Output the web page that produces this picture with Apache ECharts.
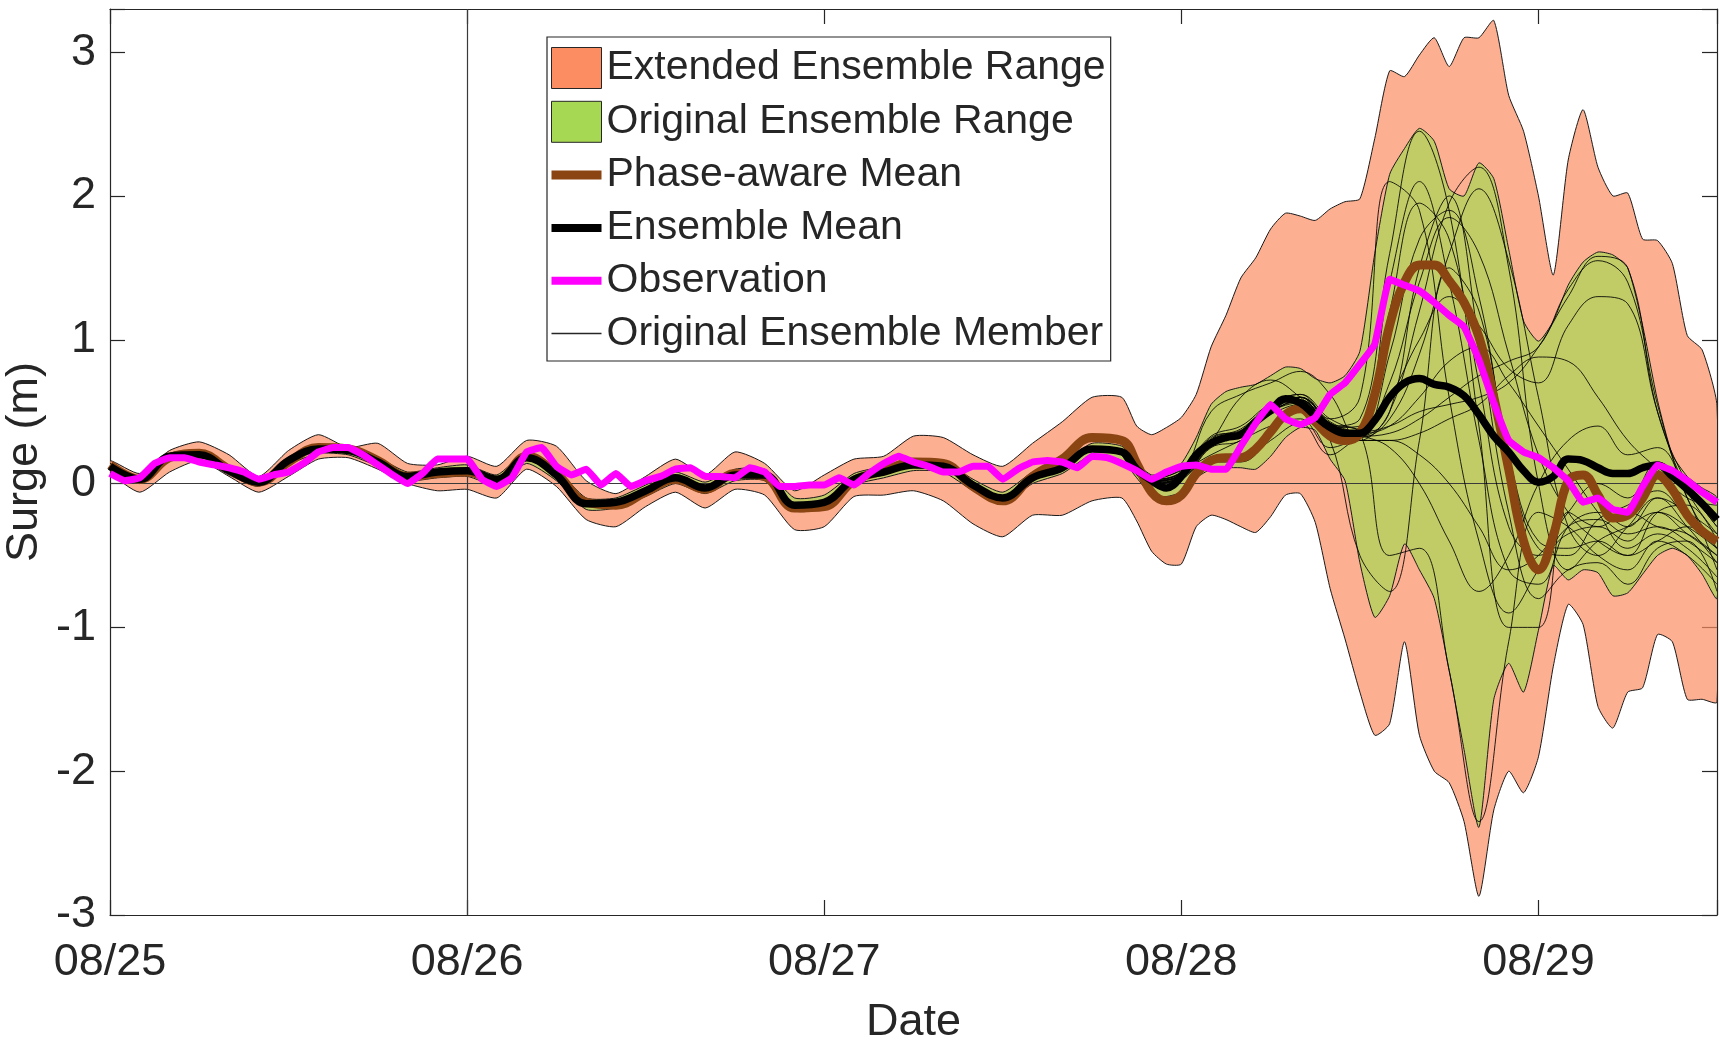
<!DOCTYPE html>
<html>
<head>
<meta charset="utf-8">
<title>Surge ensemble forecast</title>
<script src="https://cdn.jsdelivr.net/npm/echarts@6/dist/echarts.min.js"></script>
<style>
  html, body { margin: 0; padding: 0; background: #fff; }
  #surgeChart { width: 1720px; height: 1046px; }
</style>
</head>
<body>
<div id="surgeChart"></div>
<script>
// hours since 08/25 00:00 (2 h steps, then hourly where the ensemble spreads out)
const hours = [0, 2, 4, 6, 8, 10, 12, 14, 16, 18, 20, 22, 24, 26, 28, 30, 32, 34, 36, 38, 40, 42, 44, 46, 48, 50, 52, 54, 56, 58, 60, 62, 64, 66, 68,
  69, 70, 71, 72, 73, 74, 75, 76, 77, 78, 79, 80, 81, 82, 83, 84, 85, 86, 87, 88, 89, 90, 91, 92, 93, 94, 95, 96, 97, 98, 99, 100, 101, 102, 103, 104, 105, 106, 107, 108];
const dayLabels = ['08/25', '08/26', '08/27', '08/28', '08/29'];

const extendedUpper = [0.16, 0.07, 0.23, 0.29, 0.2, 0.05, 0.23, 0.34, 0.25, 0.28, 0.14, 0.13, 0.19, 0.12, 0.3, 0.26, 0.02, -0.07, 0.05, 0.17, 0.06, 0.22, 0.14, -0.05, 0.06, 0.17, 0.19, 0.33, 0.32, 0.2, 0.12, 0.28, 0.43, 0.6, 0.6,
  0.4, 0.34, 0.39, 0.46, 0.62, 0.95, 1.17, 1.43, 1.57, 1.77, 1.88, 1.86, 1.83, 1.91, 1.96, 1.98, 2.4, 2.87, 2.83, 2.98, 3.1, 2.9, 3.1, 3.1, 3.22, 2.7, 2.45, 2.0, 1.45, 2.25, 2.6, 2.2, 2.0, 2.02, 1.7, 1.69, 1.53, 1.03, 0.93, 0.54];
const extendedLower = [0.08, -0.06, 0.08, 0.16, 0.05, -0.06, 0.05, 0.17, 0.18, 0.1, 0.0, -0.05, -0.04, -0.1, 0.1, -0.02, -0.25, -0.3, -0.16, -0.06, -0.17, -0.04, -0.08, -0.32, -0.3, -0.09, -0.08, -0.05, -0.12, -0.28, -0.37, -0.22, -0.22, -0.12, -0.1,
  -0.26, -0.47, -0.56, -0.56, -0.3, -0.22, -0.25, -0.3, -0.34, -0.23, -0.08, -0.07, -0.27, -0.73, -1.08, -1.45, -1.75, -1.67, -1.1, -1.75, -2.0, -2.08, -2.35, -2.87, -2.27, -2.0, -2.15, -1.9, -1.27, -0.84, -0.98, -1.55, -1.7, -1.45, -1.42, -1.05, -1.1, -1.5, -1.5, -1.52];
const originalUpper = [0.14, 0.05, 0.21, 0.23, 0.12, 0.03, 0.18, 0.27, 0.24, 0.18, 0.08, 0.11, 0.13, 0.06, 0.22, 0.1, -0.1, -0.1, -0.01, 0.08, 0.01, 0.1, 0.1, -0.1, -0.08, 0.07, 0.12, 0.17, 0.16, 0.03, -0.06, 0.08, 0.15, 0.28, 0.26,
  0.14, 0.06, 0.08, 0.14, 0.32, 0.55, 0.64, 0.67, 0.69, 0.75, 0.81, 0.8, 0.73, 0.7, 0.75, 0.92, 1.6, 2.15, 2.33, 2.47, 2.38, 2.05, 2.0, 2.23, 2.12, 1.63, 1.13, 0.99, 1.13, 1.38, 1.54, 1.61, 1.59, 1.5, 1.1, 0.58, 0.2, 0.05, -0.03, -0.1];
const originalLower = [0.09, 0.0, 0.16, 0.17, 0.06, -0.02, 0.13, 0.21, 0.2, 0.12, 0.02, 0.04, 0.05, -0.01, 0.14, 0.02, -0.18, -0.17, -0.09, 0.0, -0.07, 0.02, 0.02, -0.19, -0.17, -0.01, 0.04, 0.09, 0.08, -0.05, -0.14, 0.0, 0.07, 0.2, 0.16,
  0.04, -0.08, -0.09, -0.06, 0.04, 0.1, 0.11, 0.11, 0.1, 0.19, 0.32, 0.39, 0.37, 0.17, 0.02, -0.55, -0.93, -0.78, -0.42, -0.6, -0.8, -1.3, -1.85, -2.39, -1.5, -1.25, -1.45, -1.02, -0.57, -0.67, -0.6, -0.62, -0.78, -0.76, -0.63, -0.5, -0.45, -0.5, -0.63, -0.8];
const phaseAwareMean = [0.13, 0.03, 0.18, 0.21, 0.1, 0.01, 0.15, 0.25, 0.24, 0.16, 0.05, 0.07, 0.08, 0.02, 0.19, 0.07, -0.13, -0.15, -0.06, 0.03, -0.04, 0.07, 0.05, -0.17, -0.16, 0.02, 0.09, 0.15, 0.14, -0.02, -0.12, 0.05, 0.17, 0.32, 0.3,
  0.14, -0.06, -0.12, -0.08, 0.07, 0.16, 0.18, 0.18, 0.24, 0.36, 0.48, 0.52, 0.43, 0.33, 0.3, 0.35, 0.62, 1.1, 1.4, 1.52, 1.52, 1.41, 1.26, 1.02, 0.6, 0.1, -0.4, -0.6, -0.36, 0.02, 0.06, -0.08, -0.24, -0.22, -0.1, 0.06, -0.04, -0.22, -0.33, -0.4];
const ensembleMean = [0.12, 0.03, 0.19, 0.2, 0.09, 0.01, 0.16, 0.24, 0.23, 0.15, 0.05, 0.08, 0.09, 0.03, 0.18, 0.06, -0.14, -0.13, -0.05, 0.04, -0.03, 0.06, 0.06, -0.15, -0.13, 0.03, 0.08, 0.13, 0.12, -0.01, -0.1, 0.04, 0.11, 0.24, 0.22,
  0.1, 0.02, -0.03, 0.05, 0.2, 0.28, 0.32, 0.34, 0.43, 0.51, 0.59, 0.56, 0.47, 0.39, 0.35, 0.35, 0.44, 0.6, 0.7, 0.73, 0.69, 0.67, 0.61, 0.48, 0.33, 0.22, 0.09, 0.01, 0.05, 0.17, 0.16, 0.11, 0.07, 0.07, 0.11, 0.13, 0.05, -0.04, -0.14, -0.25];

// observation is hourly
const obsHours = Array.from({ length: 109 }, (_, i) => i);
const observation = [0.07, 0.02, 0.04, 0.14, 0.18, 0.18, 0.15, 0.13, 0.11, 0.08, 0.03, 0.06, 0.08, 0.14, 0.22, 0.25, 0.25, 0.2, 0.13, 0.06, 0.0, 0.07, 0.17, 0.17, 0.17, 0.03, -0.02, 0.04, 0.22, 0.25, 0.12, 0.06, 0.1, -0.01, 0.07, -0.02, 0.02,
  0.05, 0.1, 0.11, 0.05, 0.05, 0.04, 0.11, 0.08, -0.02, -0.02, -0.01, -0.01, 0.04, -0.01, 0.07, 0.14, 0.19, 0.15, 0.12, 0.08, 0.08, 0.12, 0.12, 0.03, 0.1, 0.15, 0.16, 0.15, 0.11, 0.19, 0.18, 0.14, 0.09, 0.03, 0.08, 0.12, 0.13,
  0.1, 0.1, 0.26, 0.42, 0.55, 0.45, 0.41, 0.46, 0.62, 0.7, 0.83, 0.97, 1.42, 1.38, 1.34, 1.26, 1.17, 1.09, 0.86, 0.56, 0.3, 0.22, 0.18, 0.11, 0.02, -0.13, -0.1, -0.18, -0.2, -0.02, 0.13, 0.09, 0.02, -0.06, -0.13];

// original members, only drawn where they leave the mean
const memberHours = [68, 70, 72, 74, 76, 78, 80, 82, 84, 86, 88, 90, 92, 94, 96, 98, 100, 102, 104, 106, 108];
const members = [
  [0.24, 0.02, 0.06, 0.3, 0.36, 0.55, 0.62, 0.45, 0.6, 2.1, 1.9, 0.6, -0.4, -0.9, -0.6, -0.3, -0.25, -0.35, -0.3, -0.4, -0.55],
  [0.22, 0.0, 0.05, 0.28, 0.33, 0.52, 0.6, 0.4, 0.45, 1.6, 2.45, 1.9, 0.4, -1.0, -1.0, -0.2, -0.3, -0.2, -0.3, -0.35, -0.5],
  [0.2, 0.03, 0.08, 0.5, 0.62, 0.7, 0.78, 0.62, 0.3, 0.5, 1.2, 1.95, 2.2, 1.5, 0.0, -0.6, -0.4, -0.3, -0.2, -0.3, -0.45],
  [0.23, 0.04, 0.1, 0.33, 0.4, 0.55, 0.58, 0.38, 0.32, 0.45, 0.9, 1.6, 2.05, 1.55, 0.6, -0.3, -0.5, -0.3, -0.1, -0.2, -0.35],
  [0.21, 0.0, 0.03, 0.25, 0.3, 0.5, 0.6, 0.42, 0.35, -0.5, -0.45, -1.3, -2.35, -1.1, -0.2, -0.3, -0.5, -0.6, -0.4, -0.5, -0.7],
  [0.22, 0.01, 0.04, 0.26, 0.34, 0.48, 0.55, 0.3, -0.5, -0.75, 0.3, 1.5, 1.2, 0.2, -0.4, -0.45, -0.4, -0.5, -0.4, -0.3, -0.4],
  [0.23, 0.03, 0.07, 0.3, 0.36, 0.5, 0.58, 0.4, 0.33, 0.35, 0.45, 0.6, 0.75, 0.85, 0.95, 1.35, 1.55, 1.4, 0.55, -0.1, -0.45],
  [0.22, 0.02, 0.05, 0.28, 0.34, 0.52, 0.6, 0.42, 0.36, 0.4, 0.5, 0.55, 0.6, 0.7, 0.95, 1.3, 1.58, 1.5, 0.5, 0.0, -0.3],
  [0.24, 0.03, 0.09, 0.2, 0.3, 0.4, 0.45, 0.25, 0.3, 0.3, 0.35, 0.45, 0.55, 0.75, 0.88, 0.85, 0.6, 0.3, 0.1, -0.1, -0.15],
  [0.21, 0.0, 0.04, 0.27, 0.33, 0.5, 0.57, 0.4, 0.35, 0.6, 1.0, 1.3, 1.1, 0.8, 0.7, 1.1, 1.3, 1.25, 0.5, -0.05, -0.35],
  [0.22, 0.02, 0.06, 0.29, 0.35, 0.53, 0.6, 0.41, 0.36, 1.2, 1.95, 1.7, 0.7, -0.3, -0.5, -0.35, -0.3, -0.4, -0.2, -0.35, -0.5],
  [0.23, 0.01, 0.07, 0.3, 0.36, 0.52, 0.58, 0.4, 0.34, 0.9, 1.7, 1.9, 1.3, 0.2, -0.45, -0.5, -0.25, -0.15, -0.05, -0.25, -0.45],
  [0.2, 0.0, 0.05, 0.27, 0.34, 0.5, 0.56, 0.39, 0.4, 1.4, 2.1, 1.4, 0.3, -0.6, -0.7, -0.3, -0.2, -0.3, -0.1, -0.3, -0.55],
  [0.24, 0.03, 0.08, 0.31, 0.38, 0.55, 0.62, 0.45, 0.38, 0.7, 1.4, 1.85, 1.6, 0.9, 0.2, -0.2, -0.4, -0.5, -0.2, -0.15, -0.4],
  [0.22, 0.02, 0.06, 0.29, 0.6, 0.72, 0.6, 0.42, 0.35, 0.4, 0.6, 0.85, 0.95, 0.7, 0.4, 0.1, -0.2, -0.45, -0.35, -0.45, -0.65],
  [0.21, 0.01, 0.05, 0.15, 0.15, 0.3, 0.42, 0.2, 0.3, 0.3, 0.2, 0.0, -0.3, -0.6, -0.5, -0.2, 0.0, -0.1, 0.15, -0.05, -0.3],
  [0.23, 0.02, 0.08, 0.32, 0.37, 0.53, 0.6, 0.43, 0.34, 0.25, 0.0, -0.4, -0.75, -0.5, 0.0, 0.3, 0.4, 0.2, 0.25, -0.1, -0.6],
  [0.22, 0.0, 0.06, 0.29, 0.35, 0.5, 0.58, 0.4, 0.33, 0.5, 1.5, 2.0, 1.0, -0.2, -0.8, -0.6, -0.55, -0.7, -0.45, -0.4, -0.75]
];

function pairs(xs, ys) {
  return xs.map((x, i) => [x, ys[i]]);
}

const textColor = '#262626';
const font = 'Liberation Sans, Arial, Helvetica, sans-serif';
const axisLineStyle = { color: textColor, width: 1.2 };

// filled range between two edges, drawn as one smoothed polygon
function bandSeries(name, lower, upper, color, fill) {
  return {
    name: name, type: 'custom', z: 1,
    data: hours.map((h, i) => [h, lower[i], upper[i]]),
    encode: { x: 0, y: [1, 2] },
    itemStyle: { color: color },
    renderItem: function (params, api) {
      if (params.dataIndex !== 0) return null;
      const top = hours.map((h, i) => api.coord([h, upper[i]]));
      const bottom = hours.map((h, i) => api.coord([h, lower[i]])).reverse();
      const cs = params.coordSys;
      return {
        type: 'polygon',
        shape: { points: top.concat(bottom), smooth: 0.2 },
        style: { fill: fill, stroke: '#1a1a1a', lineWidth: 1 },
        clipPath: { type: 'rect', shape: { x: cs.x, y: cs.y, width: cs.width, height: cs.height } }
      };
    }
  };
}

const seriesList = [
  bandSeries('Extended Ensemble Range', extendedLower, extendedUpper, '#FC8D62', 'rgba(252,141,98,0.7)'),
  bandSeries('Original Ensemble Range', originalLower, originalUpper, '#A6D854', 'rgba(166,216,84,0.7)')
];

members.forEach((m, k) => {
  const s = {
    name: 'Original Ensemble Member', type: 'line', z: 3,
    data: pairs(memberHours, m), symbol: 'none', smooth: 0.4,
    itemStyle: { color: '#000' },
    lineStyle: { color: '#000', width: 1, opacity: 0.85 }
  };
  if (k === 0) {
    // zero line and the 08/26 marker
    s.markLine = {
      silent: true, symbol: 'none', z: 2, animation: false,
      label: { show: false },
      lineStyle: { color: '#3a3a3a', width: 1.2, type: 'solid', opacity: 1 },
      data: [{ yAxis: 0 }, { xAxis: 24 }]
    };
  }
  seriesList.push(s);
});

seriesList.push(
  {
    name: 'Phase-aware Mean', type: 'line', z: 4,
    data: pairs(hours, phaseAwareMean), symbol: 'none', smooth: 0.4,
    itemStyle: { color: '#8B4513' },
    lineStyle: { color: '#8B4513', width: 9 }
  },
  {
    name: 'Ensemble Mean', type: 'line', z: 5,
    data: pairs(hours, ensembleMean), symbol: 'none', smooth: 0.4,
    itemStyle: { color: '#000' },
    lineStyle: { color: '#000', width: 7.5 }
  },
  {
    name: 'Observation', type: 'line', z: 6,
    data: pairs(obsHours, observation), symbol: 'none', smooth: 0.1,
    itemStyle: { color: '#FF00FF' },
    lineStyle: { color: '#FF00FF', width: 7, join: 'round' }
  }
);

const option = {
  animation: false,
  backgroundColor: '#fff',
  textStyle: { fontFamily: font, color: textColor },
  grid: { left: 110, right: 3, top: 9, bottom: 131, containLabel: false, outerBoundsMode: 'none' },
  legend: {
    orient: 'vertical', left: 547, top: 37, z: 10,
    padding: [10, 5, 7, 0],
    itemWidth: 50, itemHeight: 41, itemGap: 11.8,
    backgroundColor: '#fff', borderColor: textColor, borderWidth: 1.2,
    selectedMode: false,
    textStyle: { fontSize: 41, color: textColor, fontFamily: font },
    data: [
      { name: 'Extended Ensemble Range', icon: 'rect', itemStyle: { color: '#FC8D62', borderColor: textColor, borderWidth: 1, opacity: 1 } },
      { name: 'Original Ensemble Range', icon: 'rect', itemStyle: { color: '#A6D854', borderColor: textColor, borderWidth: 1, opacity: 1 } },
      { name: 'Phase-aware Mean', itemStyle: { opacity: 0 }, lineStyle: { width: 9, color: '#8B4513' } },
      { name: 'Ensemble Mean', itemStyle: { opacity: 0 }, lineStyle: { width: 8, color: '#000' } },
      { name: 'Observation', itemStyle: { opacity: 0 }, lineStyle: { width: 8, color: '#FF00FF' } },
      { name: 'Original Ensemble Member', itemStyle: { opacity: 0 }, lineStyle: { width: 1.5, color: '#000' } }
    ]
  },
  xAxis: [
    {
      type: 'value', min: 0, max: 108, interval: 24,
      name: 'Date', nameLocation: 'middle', nameGap: 85,
      nameTextStyle: { fontSize: 45, color: textColor, fontFamily: font },
      axisLine: { show: true, onZero: false, lineStyle: axisLineStyle },
      axisTick: { show: true, inside: true, length: 15, lineStyle: axisLineStyle },
      axisLabel: {
        fontSize: 45, color: textColor, margin: 25, fontFamily: font,
        formatter: v => (v % 24 === 0 ? dayLabels[v / 24] : '')
      },
      splitLine: { show: false }
    },
    {
      type: 'value', position: 'top', min: 0, max: 108, interval: 24,
      axisLine: { show: true, onZero: false, lineStyle: axisLineStyle },
      axisTick: { show: true, inside: true, length: 15, lineStyle: axisLineStyle },
      axisLabel: { show: false },
      splitLine: { show: false }
    }
  ],
  yAxis: [
    {
      type: 'value', min: -3, max: 3.3, interval: 1,
      name: 'Surge (m)', nameLocation: 'middle', nameGap: 63, nameMoveOverlap: false,
      nameTextStyle: { fontSize: 45, lineHeight: 44, color: textColor, fontFamily: font },
      axisLine: { show: true, onZero: false, lineStyle: axisLineStyle },
      axisTick: { show: true, inside: true, length: 15, lineStyle: axisLineStyle },
      axisLabel: {
        fontSize: 45, color: textColor, margin: 14, fontFamily: font,
        formatter: v => (Number.isInteger(v) ? String(v) : '')
      },
      splitLine: { show: false }
    },
    {
      type: 'value', position: 'right', min: -3, max: 3.3, interval: 1,
      axisLine: { show: true, onZero: false, lineStyle: axisLineStyle },
      axisTick: { show: true, inside: true, length: 15, lineStyle: axisLineStyle },
      axisLabel: { show: false },
      splitLine: { show: false }
    }
  ],
  series: seriesList
};

const surgeChart = echarts.init(document.getElementById('surgeChart'));
surgeChart.setOption(option);
</script>
</body>
</html>
